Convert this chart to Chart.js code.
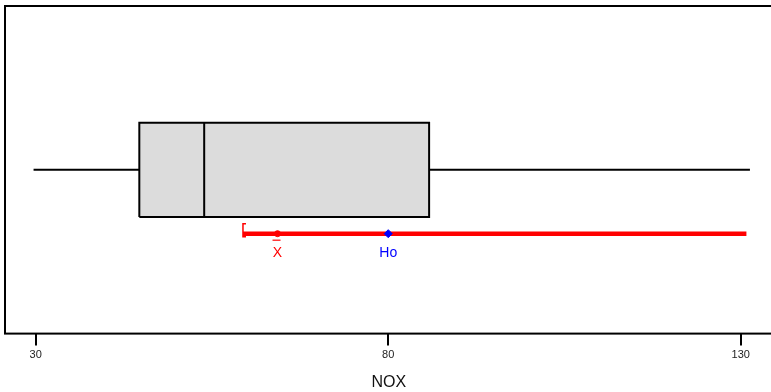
<!DOCTYPE html>
<html>
<head>
<meta charset="utf-8">
<script src="https://cdn.jsdelivr.net/npm/chart.js@4.4.1/dist/chart.umd.min.js"></script>
<style>
  html, body { margin: 0; padding: 0; overflow: hidden; background: #fff; }
  #wrap { width: 790px; height: 392px; }
</style>
</head>
<body>
<div id="wrap"><canvas id="noxChart"></canvas></div>
<script>
"use strict";

// boxplot summary of NOX: min, Q1, median, Q3, max
const boxStats = [29.7, 44.7, 53.9, 85.8, 131.3];
// one sided interval for the mean, lower bound and end of line
const ciBounds = [59.4, 130.8];
const xBar = 64.3;
const hoValue = 80;
const tickLabels = [30, 80, 130];
const axisTitle = "NOX";

// vertical placement on a hidden 0..10 scale
const boxCenter = 5;
const boxHalf = 1.44;
const ciRow = 3.05;

const [minV, q1, med, q3, maxV] = boxStats;

// frame, interval bracket and point labels
const extrasPlugin = {
    id: "extras",
    afterDatasetsDraw(chart) {
        const ctx = chart.ctx;
        const area = chart.chartArea;
        const x = chart.scales.x;
        const y = chart.scales.y;
        ctx.save();

        // bracket at the lower bound
        let bx = x.getPixelForValue(ciBounds[0]);
        let by = y.getPixelForValue(ciRow);
        ctx.strokeStyle = "#ff0000";
        ctx.lineWidth = 1.5;
        ctx.beginPath();
        ctx.moveTo(bx + 3, by - 10);
        ctx.lineTo(bx, by - 10);
        ctx.lineTo(bx, by + 3);
        ctx.lineTo(bx + 3, by + 3);
        ctx.stroke();

        // labels
        ctx.font = "14px 'Liberation Sans', Arial, sans-serif";
        ctx.textAlign = "center";
        ctx.textBaseline = "middle";
        let xx = x.getPixelForValue(xBar);
        ctx.fillStyle = "#ff0000";
        ctx.fillText("X", xx, by + 19);
        ctx.lineWidth = 1.2;
        ctx.beginPath();
        ctx.moveTo(xx - 5, by + 6.5);
        ctx.lineTo(xx + 3, by + 6.5);
        ctx.stroke();

        let hx = x.getPixelForValue(hoValue);
        ctx.fillStyle = "#0000ff";
        ctx.fillText("Ho", hx, by + 19);

        // frame
        ctx.strokeStyle = "#000";
        ctx.lineWidth = 2;
        ctx.strokeRect(area.left, area.top, area.right - area.left, area.bottom - area.top);
        ctx.restore();
    }
};

const ctx = document.getElementById("noxChart");
new Chart(ctx, {
    type: "scatter",
    data: {
        datasets: [
            {
                // box, drawn first so the median sits on top
                order: 10,
                data: [
                    {x: q1, y: boxCenter - boxHalf}, {x: q3, y: boxCenter - boxHalf},
                    {x: q3, y: boxCenter + boxHalf}, {x: q1, y: boxCenter + boxHalf},
                    {x: q1, y: boxCenter - boxHalf}
                ],
                showLine: true,
                fill: "shape",
                backgroundColor: "#dcdcdc",
                borderColor: "#000",
                borderWidth: 2,
                pointRadius: 0
            },
            {
                data: [{x: med, y: boxCenter - boxHalf}, {x: med, y: boxCenter + boxHalf}],
                showLine: true, borderColor: "#000", borderWidth: 2, pointRadius: 0
            },
            {
                data: [{x: minV, y: boxCenter}, {x: q1, y: boxCenter}],
                showLine: true, borderColor: "#000", borderWidth: 2, pointRadius: 0
            },
            {
                data: [{x: q3, y: boxCenter}, {x: maxV, y: boxCenter}],
                showLine: true, borderColor: "#000", borderWidth: 2, pointRadius: 0
            },
            {
                data: [{x: ciBounds[0], y: ciRow}, {x: ciBounds[1], y: ciRow}],
                showLine: true, borderColor: "#ff0000", borderWidth: 4.5, pointRadius: 0
            },
            {
                order: -1,
                data: [{x: xBar, y: ciRow}],
                pointStyle: "circle", pointRadius: 3,
                backgroundColor: "#ff0000", borderColor: "#ff0000"
            },
            {
                order: -1,
                data: [{x: hoValue, y: ciRow}],
                pointStyle: "rectRot", pointRadius: 4,
                backgroundColor: "#0000ff", borderColor: "#0000ff"
            }
        ]
    },
    options: {
        responsive: true,
        maintainAspectRatio: false,
        animation: false,
        layout: { padding: { left: 0, right: 17.5, top: 6, bottom: 0 } },
        plugins: {
            legend: { display: false },
            tooltip: { enabled: false }
        },
        scales: {
            x: {
                type: "linear",
                min: 25.65,
                max: 134.5,
                afterBuildTicks: axis => {
                    axis.ticks = tickLabels.map(v => ({value: v}));
                },
                grid: {
                    drawOnChartArea: false,
                    drawTicks: true,
                    tickLength: 12,
                    color: "#000",
                    lineWidth: 2
                },
                border: { display: false },
                ticks: {
                    color: "#222",
                    padding: 3,
                    maxRotation: 0,
                    font: { family: "'Liberation Sans', Arial", size: 11 }
                },
                title: {
                    display: true,
                    text: axisTitle,
                    color: "#111",
                    padding: { top: 8, bottom: 0 },
                    font: { family: "'Liberation Sans', Arial", size: 16 }
                }
            },
            y: {
                type: "linear",
                min: 0,
                max: 10,
                display: false
            }
        }
    },
    plugins: [extrasPlugin]
});
</script>
</body>
</html>
